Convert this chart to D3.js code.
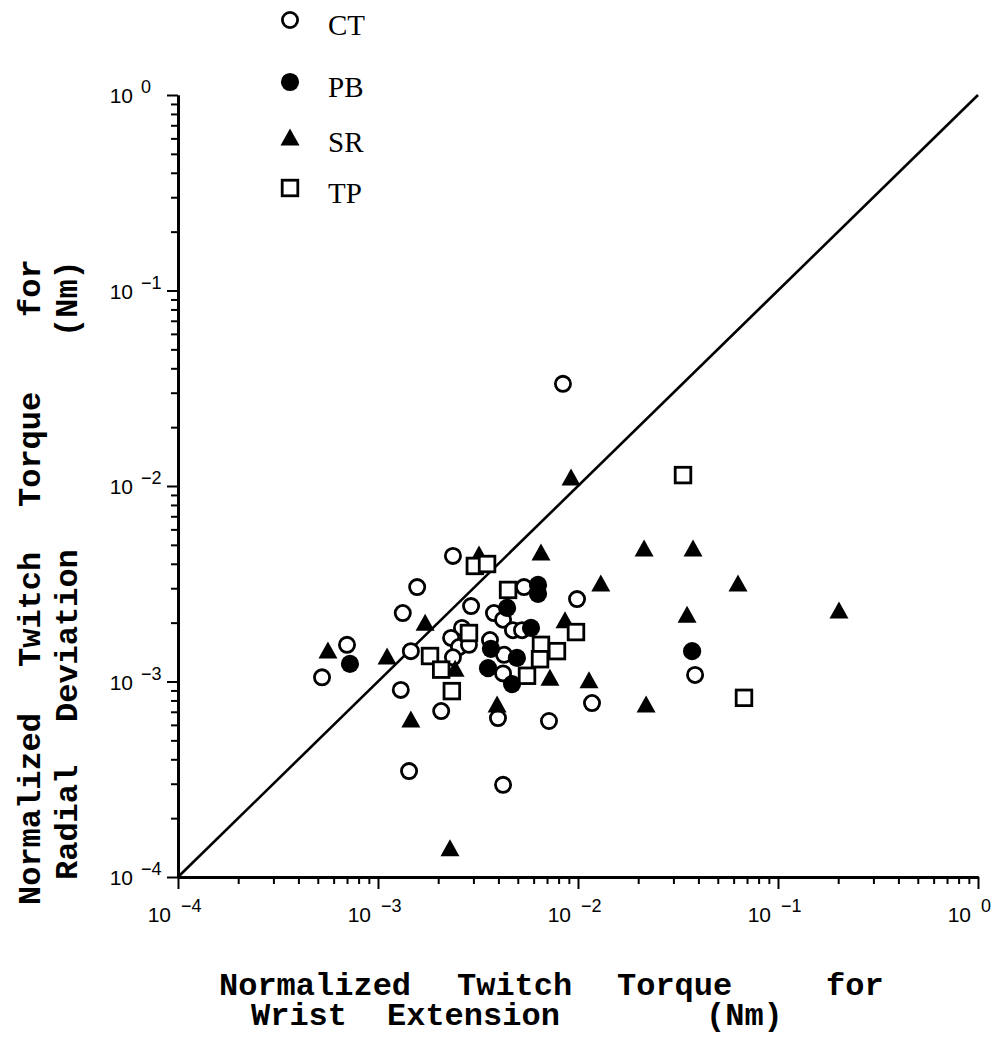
<!DOCTYPE html>
<html>
<head>
<meta charset="utf-8">
<script src="https://cdn.jsdelivr.net/npm/d3@7"></script>
<style>
  body { margin: 0; background: #fff; }
  svg { display: block; }
</style>
</head>
<body>
<svg id="chart" width="1007" height="1037"></svg>
<script>
// Normalized twitch torque (Nm): wrist extension (x) vs radial deviation (y), per muscle group
const seriesNames = ["CT", "PB", "SR", "TP"];

const ctWrist  = [0.00841, 0.00237, 0.00157, 0.00133, 0.00070, 0.000525, 0.00146, 0.00130, 0.00207, 0.00143,
                  0.00422, 0.00398, 0.00716, 0.01175, 0.0385, 0.00989, 0.00537, 0.00292, 0.00380, 0.00422,
                  0.00473, 0.00525, 0.00263, 0.00232, 0.00254, 0.00285, 0.00237, 0.00363, 0.00427, 0.00422];
const ctRadial = [0.0333, 0.00439, 0.00304, 0.00224, 0.00154, 0.00105, 0.00143, 0.000906, 0.000706, 0.000348,
                  0.000296, 0.00065, 0.000628, 0.000776, 0.00108, 0.00264, 0.00304, 0.00243, 0.00224, 0.00207,
                  0.00183, 0.00183, 0.00188, 0.00167, 0.00150, 0.00154, 0.00133, 0.00163, 0.00137, 0.00110];

const pbWrist  = [0.000724, 0.00631, 0.00631, 0.00442, 0.00582, 0.00367, 0.00495, 0.00355, 0.00468, 0.0372];
const pbRadial = [0.00123, 0.00312, 0.00281, 0.00238, 0.00188, 0.00147, 0.00132, 0.00117, 0.00097, 0.00143];

const srWrist  = [0.00923, 0.00320, 0.00653, 0.0214, 0.0376, 0.0130, 0.0631, 0.00861, 0.0351, 0.2018,
                  0.00172, 0.000562, 0.00111, 0.00243, 0.00146, 0.00394, 0.00724, 0.01135, 0.0219, 0.00229];
const srRadial = [0.01112, 0.00449, 0.00459, 0.00482, 0.00482, 0.00319, 0.00319, 0.00207, 0.00221, 0.00232,
                  0.00201, 0.00145, 0.00135, 0.00117, 0.000643, 0.000767, 0.00105, 0.00102, 0.000767, 0.000141];

const tpWrist  = [0.0335, 0.00305, 0.00351, 0.00447, 0.00285, 0.00182, 0.00207, 0.00234, 0.00653, 0.00785,
                  0.00646, 0.00556, 0.00977, 0.0676];
const tpRadial = [0.01137, 0.00390, 0.00399, 0.00294, 0.00177, 0.00135, 0.00115, 0.000893, 0.00154, 0.00143,
                  0.00130, 0.00107, 0.00179, 0.000825];

// Axis ticks
const majorTicks = [1e-4, 1e-3, 1e-2, 1e-1, 1];
const majorExponents = ["\u22124", "\u22123", "\u22122", "\u22121", "0"];
const minorMultipliers = [2, 3, 4, 5, 6, 7, 8, 9];

// Axis titles, one array of words per line
const xTitleLines = [["Normalized", "Twitch", "Torque", "for"], ["Wrist", "Extension", "(Nm)"]];
const yTitleLines = [["Normalized", "Twitch", "Torque", "for"], ["Radial", "Deviation", "(Nm)"]];

const svg = d3.select("#chart");

const x = d3.scaleLog().domain([1e-4, 1]).range([178, 978]);
const y = d3.scaleLog().domain([1e-4, 1]).range([877, 95]);

const minorTicks = [];
majorTicks.slice(0, -1).forEach(m => minorMultipliers.forEach(k => minorTicks.push(m * k)));

const ink = "#000";

// ---- axes ----
function styleAxis(g, width) {
  g.select(".domain").attr("stroke", ink).attr("stroke-width", width);
  g.selectAll(".tick line").attr("stroke", ink).attr("stroke-width", 2);
}

const xAxisG = svg.append("g").attr("transform", `translate(0,${y(1e-4)})`);
xAxisG.append("g")
  .call(d3.axisBottom(x).tickValues(minorTicks).tickSize(7).tickSizeOuter(0).tickFormat(""))
  .call(g => styleAxis(g, 3));
xAxisG.append("g")
  .call(d3.axisBottom(x).tickValues(majorTicks).tickSize(12).tickSizeOuter(0).tickFormat(""))
  .call(g => styleAxis(g, 3));

const yAxisG = svg.append("g").attr("transform", `translate(${x(1e-4)},0)`);
yAxisG.append("g")
  .call(d3.axisLeft(y).tickValues(minorTicks).tickSize(7).tickSizeOuter(0).tickFormat(""))
  .call(g => styleAxis(g, 3));
yAxisG.append("g")
  .call(d3.axisLeft(y).tickValues(majorTicks).tickSize(11).tickSizeOuter(0).tickFormat(""))
  .call(g => styleAxis(g, 3));

// power-of-ten tick labels
const labelFont = "'Liberation Sans', Arial, sans-serif";
majorTicks.forEach((v, i) => {
  const px = x(v);
  svg.append("text")
    .attr("x", px - 7).attr("y", y(1e-4) + 45)
    .attr("text-anchor", "end")
    .attr("font-family", labelFont).attr("font-size", 21).attr("fill", ink)
    .text("10");
  svg.append("text")
    .attr("x", px + 3).attr("y", y(1e-4) + 35)
    .attr("font-family", labelFont).attr("font-size", 18).attr("fill", ink)
    .text(majorExponents[i]);

  const py = y(v);
  svg.append("text")
    .attr("x", 133).attr("y", py + 8)
    .attr("text-anchor", "end")
    .attr("font-family", labelFont).attr("font-size", 21).attr("fill", ink)
    .text("10");
  svg.append("text")
    .attr("x", 141).attr("y", py - 2)
    .attr("font-family", labelFont).attr("font-size", 18).attr("fill", ink)
    .text(majorExponents[i]);
});

// axis titles: words placed at their own offsets along each line
const titleFont = "'Liberation Mono', 'Courier New', monospace";
function titleLine(parent, words, starts, attrs) {
  const t = parent.append("text")
    .attr("font-family", titleFont).attr("font-weight", "bold").attr("font-size", 32)
    .attr("fill", ink);
  Object.entries(attrs).forEach(([k, v]) => t.attr(k, v));
  words.forEach((w, i) => t.append("tspan").attr("x", starts[i]).text(w));
  return t;
}

titleLine(svg, xTitleLines[0], [219, 457, 617, 826], { y: 995 });
titleLine(svg, xTitleLines[1], [251, 387, 706], { y: 1025 });

const yTitleG1 = svg.append("g").attr("transform", "translate(40,0) rotate(-90)");
titleLine(yTitleG1, yTitleLines[0], [-905, -667, -507, -317], { y: 0 });
const yTitleG2 = svg.append("g").attr("transform", "translate(77,0) rotate(-90)");
titleLine(yTitleG2, yTitleLines[1], [-880, -722, -337], { y: 0 });

// identity line y = x
svg.append("path")
  .datum([1e-4, 1])
  .attr("d", d3.line().x(d => x(d)).y(d => y(d)))
  .attr("stroke", ink).attr("stroke-width", 2.6).attr("fill", "none");

// ---- markers ----
const triW = 19, triH = 17;
const trianglePath = `M0,${-triH / 2}L${triW / 2},${triH / 2}L${-triW / 2},${triH / 2}Z`;

function drawMarker(g, kind) {
  if (kind === "CT") {
    g.append("circle").attr("r", 7.6).attr("fill", "#fff").attr("stroke", ink).attr("stroke-width", 2.8);
  } else if (kind === "PB") {
    g.append("circle").attr("r", 9.1).attr("fill", ink);
  } else if (kind === "SR") {
    g.append("path").attr("d", trianglePath).attr("fill", ink);
  } else {
    g.append("rect").attr("x", -7.8).attr("y", -7.8).attr("width", 15.6).attr("height", 15.6)
      .attr("fill", "#fff").attr("stroke", ink).attr("stroke-width", 2.8);
  }
}

const seriesData = {
  CT: d3.zip(ctWrist, ctRadial),
  PB: d3.zip(pbWrist, pbRadial),
  SR: d3.zip(srWrist, srRadial),
  TP: d3.zip(tpWrist, tpRadial)
};

seriesNames.forEach(name => {
  const layer = svg.append("g").attr("class", `series-${name}`);
  layer.selectAll("g").data(seriesData[name]).join("g")
    .attr("transform", d => `translate(${x(d[0])},${y(d[1])})`)
    .each(function () { drawMarker(d3.select(this), name); });
});

// ---- legend ----
const legendY = [20, 82, 137, 188];
const legend = svg.append("g");
seriesNames.forEach((name, i) => {
  const g = legend.append("g").attr("transform", `translate(290,${legendY[i]})`);
  drawMarker(g, name);
  legend.append("text")
    .attr("x", 328).attr("y", legendY[i] + 15)
    .attr("font-family", "'Liberation Serif', 'Times New Roman', serif")
    .attr("font-size", 29).attr("fill", ink)
    .text(name);
});
</script>
</body>
</html>
